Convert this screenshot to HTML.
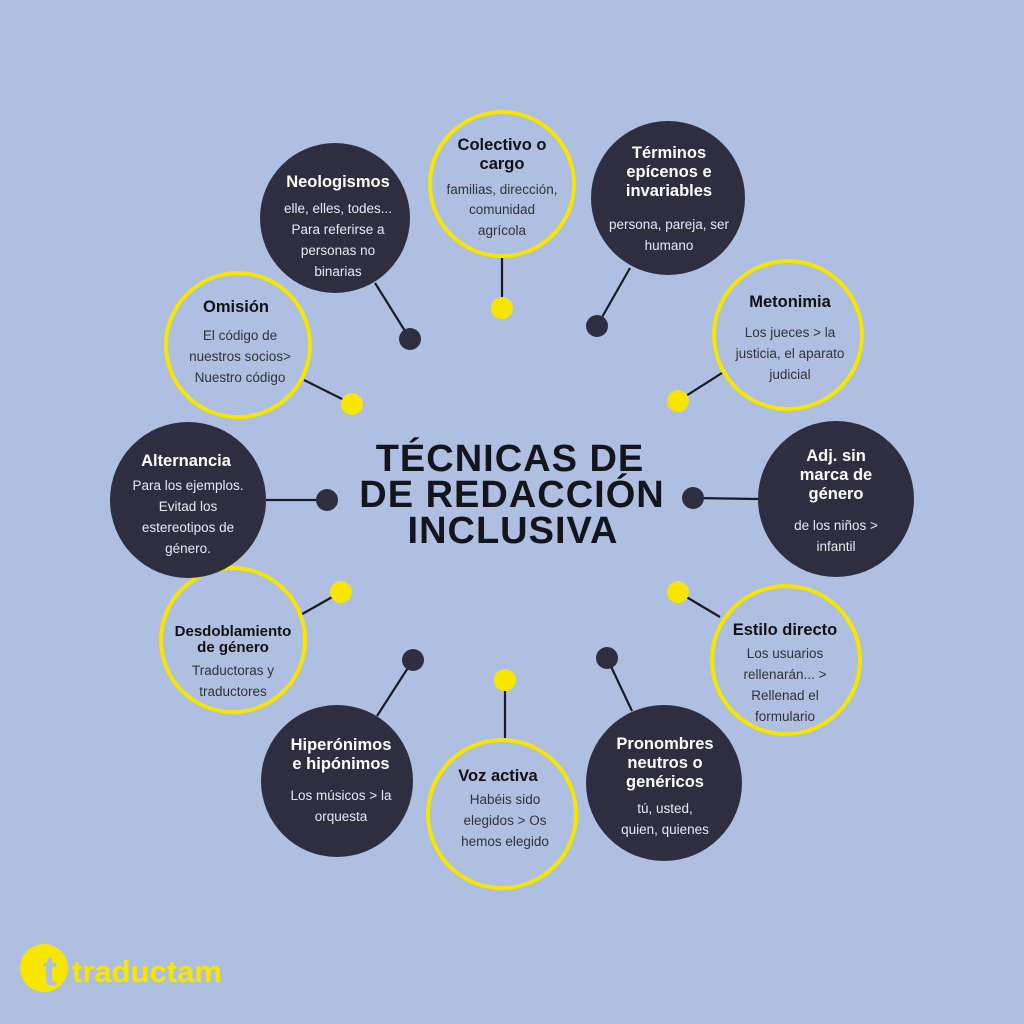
<!DOCTYPE html>
<html><head><meta charset="utf-8"><style>
html,body{margin:0;padding:0;background:#aebfe2;}
svg{display:block;font-family:"Liberation Sans",Arial,sans-serif;}
.t{font-weight:bold;font-size:16.5px;text-anchor:middle;}
.b{font-size:13.5px;text-anchor:middle;}
.d .t{fill:#fff}.d .b{fill:#e8e8ee}
.y .t{fill:#111}.y .b{fill:#333}
</style></head><body>
<svg width="1024" height="1024" viewBox="0 0 1024 1024">
<rect width="1024" height="1024" fill="#aebfe2"/>
<g stroke="#1a1a22" stroke-width="2.2">
<line x1="502" y1="258" x2="502" y2="308"/>
<line x1="630" y1="268" x2="597" y2="326"/>
<line x1="722" y1="373" x2="678" y2="401"/>
<line x1="758" y1="499" x2="693" y2="498"/>
<line x1="720" y1="617" x2="678" y2="592"/>
<line x1="632" y1="711" x2="607" y2="658"/>
<line x1="505" y1="738" x2="505" y2="680"/>
<line x1="377" y1="716" x2="413" y2="660"/>
<line x1="297" y1="617" x2="341" y2="592"/>
<line x1="266" y1="500" x2="327" y2="500"/>
<line x1="304" y1="380" x2="352" y2="404"/>
<line x1="375" y1="283" x2="410" y2="339"/>
</g>
<g fill="#f7e600">
<circle cx="502" cy="308" r="11"/><circle cx="678" cy="401" r="11"/><circle cx="678" cy="592" r="11"/>
<circle cx="505" cy="680" r="11"/><circle cx="341" cy="592" r="11"/><circle cx="352" cy="404" r="11"/>
</g>
<g fill="#2e2e40">
<circle cx="597" cy="326" r="11"/><circle cx="693" cy="498" r="11"/><circle cx="607" cy="658" r="11"/>
<circle cx="413" cy="660" r="11"/><circle cx="327" cy="500" r="11"/><circle cx="410" cy="339" r="11"/>
</g>
<g fill="#aebfe2" stroke="#f7e600" stroke-width="4">
<circle cx="502" cy="184" r="72"/><circle cx="788" cy="335" r="74"/><circle cx="786" cy="660" r="74"/>
<circle cx="502" cy="814" r="74"/><circle cx="233" cy="640" r="72"/><circle cx="238" cy="345" r="72"/>
</g>
<g fill="#2e2e40">
<circle cx="668" cy="198" r="77"/><circle cx="836" cy="499" r="78"/><circle cx="664" cy="783" r="78"/>
<circle cx="337" cy="781" r="76"/><circle cx="188" cy="500" r="78"/><circle cx="335" cy="218" r="75"/>
</g>
<g class="y">
<text class="t" x="502" y="150">Colectivo o</text><text class="t" x="502" y="169">cargo</text>
<text class="b" x="502" y="194">familias, dirección,</text><text class="b" x="502" y="214">comunidad</text><text class="b" x="502" y="235">agrícola</text>
<text class="t" x="790" y="307">Metonimia</text>
<text class="b" x="790" y="337">Los jueces &gt; la</text><text class="b" x="790" y="358">justicia, el aparato</text><text class="b" x="790" y="379">judicial</text>
<text class="t" x="785" y="635">Estilo directo</text>
<text class="b" x="785" y="658">Los usuarios</text><text class="b" x="785" y="679">rellenarán... &gt;</text><text class="b" x="785" y="700">Rellenad el</text><text class="b" x="785" y="721">formulario</text>
<text class="t" x="498" y="781">Voz activa</text>
<text class="b" x="505" y="804">Habéis sido</text><text class="b" x="505" y="825">elegidos &gt; Os</text><text class="b" x="505" y="846">hemos elegido</text>
<text class="t" x="233" y="636" style="font-size:15px">Desdoblamiento</text><text class="t" x="233" y="652" style="font-size:15px">de género</text>
<text class="b" x="233" y="675">Traductoras y</text><text class="b" x="233" y="696">traductores</text>
<text class="t" x="236" y="312">Omisión</text>
<text class="b" x="240" y="340">El código de</text><text class="b" x="240" y="361">nuestros socios&gt;</text><text class="b" x="240" y="382">Nuestro código</text>
</g>
<g class="d">
<text class="t" x="669" y="158">Términos</text><text class="t" x="669" y="177">epícenos e</text><text class="t" x="669" y="196">invariables</text>
<text class="b" x="669" y="229">persona, pareja, ser</text><text class="b" x="669" y="250">humano</text>
<text class="t" x="836" y="461">Adj. sin</text><text class="t" x="836" y="480">marca de</text><text class="t" x="836" y="499">género</text>
<text class="b" x="836" y="530">de los niños &gt;</text><text class="b" x="836" y="551">infantil</text>
<text class="t" x="665" y="749">Pronombres</text><text class="t" x="665" y="768">neutros o</text><text class="t" x="665" y="787">genéricos</text>
<text class="b" x="665" y="813">tú, usted,</text><text class="b" x="665" y="834">quien, quienes</text>
<text class="t" x="341" y="750">Hiperónimos</text><text class="t" x="341" y="769">e hipónimos</text>
<text class="b" x="341" y="800">Los músicos &gt; la</text><text class="b" x="341" y="821">orquesta</text>
<text class="t" x="186" y="466">Alternancia</text>
<text class="b" x="188" y="490">Para los ejemplos.</text><text class="b" x="188" y="511">Evitad los</text><text class="b" x="188" y="532">estereotipos de</text><text class="b" x="188" y="553">género.</text>
<text class="t" x="338" y="187">Neologismos</text>
<text class="b" x="338" y="213">elle, elles, todes...</text><text class="b" x="338" y="234">Para referirse a</text><text class="b" x="338" y="255">personas no</text><text class="b" x="338" y="276">binarias</text>
</g>
<g fill="#14141c" font-weight="bold" font-size="38" text-anchor="middle" style="letter-spacing:1px">
<text x="510" y="471">TÉCNICAS DE</text>
<text x="512" y="507">DE REDACCIÓN</text>
<text x="513" y="543">INCLUSIVA</text>
</g>
<g fill="#f7e600">
<circle cx="44" cy="968" r="24"/>
<text x="50" y="985" font-size="42" font-weight="bold" fill="#aebfe2" text-anchor="middle">t</text>
<text x="72" y="982" font-size="31" font-weight="bold">traductam</text>
</g>
</svg>
</body></html>
